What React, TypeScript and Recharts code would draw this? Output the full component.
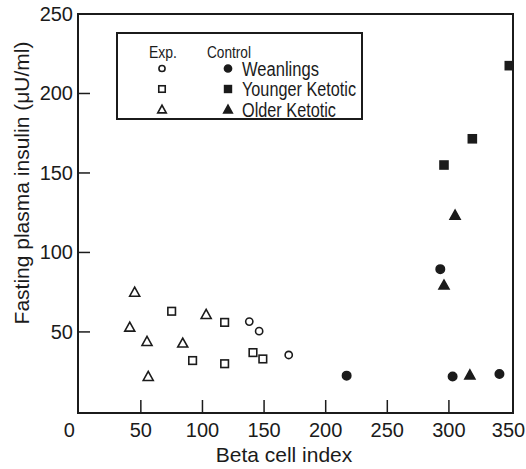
import React from 'react';
import { ScatterChart, Scatter, XAxis, YAxis, ReferenceArea } from 'recharts';

// axis ticks
const X_TICKS = [0, 50, 100, 150, 200, 250, 300, 350];
const Y_TICKS = [50, 100, 150, 200, 250];

// Exp. (open symbols)
const expWeanlingsX = [138, 146, 170];
const expWeanlingsY = [56.5, 50.5, 35.5];
const expYoungerX = [75, 92, 118, 118, 141, 149];
const expYoungerY = [63, 32, 56, 30, 37, 33];
const expOlderX = [41, 45, 55, 56, 84, 103];
const expOlderY = [53, 75, 44, 22, 43, 61];

// Control (filled symbols)
const ctrlWeanlingsX = [217, 293, 303, 341];
const ctrlWeanlingsY = [22.5, 89.5, 22, 23.5];
const ctrlYoungerX = [296, 319, 349];
const ctrlYoungerY = [155, 171.5, 217.5];
const ctrlOlderX = [296, 305, 317];
const ctrlOlderY = [79.5, 123.5, 23];

const INK = '#1b1b1b';
const FONT = "'Liberation Sans', Arial, sans-serif";

const toPoints = (xs: number[], ys: number[]) => xs.map((x, i) => ({ x, y: ys[i] }));

type Kind = 'circle' | 'square' | 'triangle';

function drawMarker(kind: Kind, filled: boolean, cx: number, cy: number, s = 1) {
  const fill = filled ? INK : 'none';
  const sw = 1.6;
  if (kind === 'circle') {
    return <circle cx={cx} cy={cy} r={(filled ? 4.2 : 3.6) * s} fill={fill} stroke={INK} strokeWidth={sw} />;
  }
  if (kind === 'square') {
    const h = (filled ? 4 : 3.8) * s;
    return <rect x={cx - h} y={cy - h} width={h * 2} height={h * 2} fill={fill} stroke={INK} strokeWidth={sw} />;
  }
  const w = 5 * s;
  const pts = `${cx},${cy - 5 * s} ${cx - w},${cy + 4 * s} ${cx + w},${cy + 4 * s}`;
  return <polygon points={pts} fill={fill} stroke={INK} strokeWidth={sw} strokeLinejoin="miter" />;
}

const shapeOf = (kind: Kind, filled: boolean) => (props: any) => {
  const { cx, cy } = props;
  if (cx == null || cy == null) return <g />;
  return drawMarker(kind, filled, cx, cy);
};

const XTick = (props: any) => {
  const { x, y, payload } = props;
  const v = payload.value;
  const hasLine = v > 0 && v < 350;
  return (
    <g>
      {hasLine && <line x1={x} y1={y} x2={x} y2={y - 13} stroke={INK} strokeWidth={1.5} />}
      <text x={v === 0 ? x - 10 : v === 350 ? x - 2 : x} y={y + 24} textAnchor="middle" fontFamily={FONT} fontSize={20} fill={INK}>
        {v}
      </text>
    </g>
  );
};

const YTick = (props: any) => {
  const { x, y, payload } = props;
  const v = payload.value;
  return (
    <g>
      {v < 250 && <line x1={x} y1={y} x2={x + 12} y2={y} stroke={INK} strokeWidth={1.5} />}
      <text x={x - 5} y={y + 7} textAnchor="end" fontFamily={FONT} fontSize={20} fill={INK}>
        {v}
      </text>
    </g>
  );
};

const series: { name: string; xs: number[]; ys: number[]; kind: Kind; filled: boolean }[] = [
  { name: 'Exp. Weanlings', xs: expWeanlingsX, ys: expWeanlingsY, kind: 'circle', filled: false },
  { name: 'Exp. Younger Ketotic', xs: expYoungerX, ys: expYoungerY, kind: 'square', filled: false },
  { name: 'Exp. Older Ketotic', xs: expOlderX, ys: expOlderY, kind: 'triangle', filled: false },
  { name: 'Control Weanlings', xs: ctrlWeanlingsX, ys: ctrlWeanlingsY, kind: 'circle', filled: true },
  { name: 'Control Younger Ketotic', xs: ctrlYoungerX, ys: ctrlYoungerY, kind: 'square', filled: true },
  { name: 'Control Older Ketotic', xs: ctrlOlderX, ys: ctrlOlderY, kind: 'triangle', filled: true },
];

// legend text is condensed in the original, squeeze it with textLength
const legendRows: { label: string; kind: Kind; y: number; w: number }[] = [
  { label: 'Weanlings', kind: 'circle', y: 68.5, w: 77 },
  { label: 'Younger Ketotic', kind: 'square', y: 89, w: 114 },
  { label: 'Older Ketotic', kind: 'triangle', y: 109.5, w: 94 },
];

export default function App() {
  return (
    <div style={{ position: 'relative', width: 526, height: 469, background: '#fff' }}>
      <style>{'body{margin:0}'}</style>
      <ScatterChart width={526} height={469} margin={{ top: 14, right: 13, bottom: 0, left: 0 }}>
        <XAxis
          type="number"
          dataKey="x"
          domain={[-1, 352]}
          ticks={X_TICKS}
          interval={0}
          tick={XTick}
          tickSize={0}
          tickMargin={0}
          tickLine={false}
          axisLine={false}
          height={56}
          allowDataOverflow
        />
        <YAxis
          type="number"
          dataKey="y"
          domain={[-1, 250]}
          ticks={Y_TICKS}
          interval={0}
          tick={YTick}
          tickSize={0}
          tickMargin={0}
          tickLine={false}
          axisLine={false}
          width={78}
          allowDataOverflow
        />
        <ReferenceArea x1={-1} x2={352} y1={-1} y2={250} fill="none" fillOpacity={0} stroke={INK} strokeWidth={2} />
        {series.map((s) => (
          <Scatter
            key={s.name}
            name={s.name}
            data={toPoints(s.xs, s.ys)}
            shape={shapeOf(s.kind, s.filled)}
            isAnimationActive={false}
          />
        ))}
      </ScatterChart>
      <svg width={526} height={469} style={{ position: 'absolute', left: 0, top: 0, pointerEvents: 'none' }}>
        <text
          x={29}
          y={183}
          transform="rotate(-90 29 183)"
          textAnchor="middle"
          fontFamily={FONT}
          fontSize={21}
          fill={INK}
        >
          Fasting plasma insulin (μU/ml)
        </text>
        <text x={284} y={462} textAnchor="middle" fontFamily={FONT} fontSize={21} fill={INK}>
          Beta cell index
        </text>
        <rect x={117} y={33} width={245} height={86} fill="#fff" stroke={INK} strokeWidth={2} />
        <text x={149} y={58} fontFamily={FONT} fontSize={17} fill={INK} textLength={28} lengthAdjust="spacingAndGlyphs">
          Exp.
        </text>
        <text x={207} y={58} fontFamily={FONT} fontSize={17} fill={INK} textLength={44} lengthAdjust="spacingAndGlyphs">
          Control
        </text>
        {legendRows.map((r) => (
          <g key={r.label}>
            {drawMarker(r.kind, false, 162, r.y, 0.85)}
            {drawMarker(r.kind, true, 228, r.y, 0.85)}
            <text
              x={242}
              y={r.y + 7}
              fontFamily={FONT}
              fontSize={19.5}
              fill={INK}
              textLength={r.w}
              lengthAdjust="spacingAndGlyphs"
            >
              {r.label}
            </text>
          </g>
        ))}
      </svg>
    </div>
  );
}
